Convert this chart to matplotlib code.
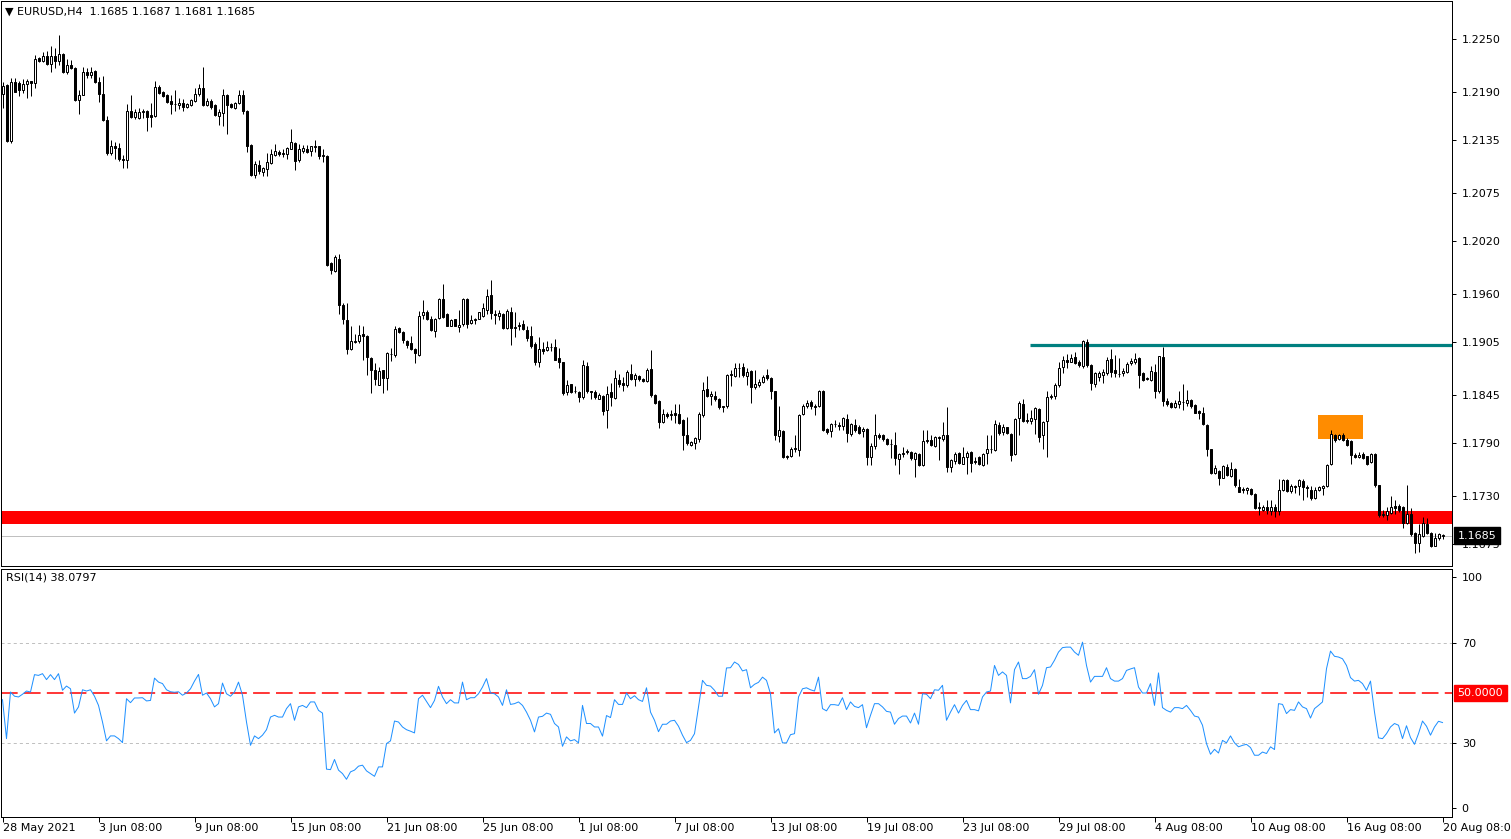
import matplotlib
matplotlib.use("Agg")
import matplotlib.pyplot as plt
from matplotlib.patches import Rectangle
import numpy as np

# ---------------- data (EURUSD H4) ----------------
opens = [
1.2188,1.2198,1.2134,1.2201,1.2200,1.2192,1.2199,1.2202,1.2200,1.2229,
1.2225,1.2231,1.2222,1.2231,1.2225,1.2233,1.2213,1.2221,1.2217,1.2181,
1.2187,1.2213,1.2209,1.2214,1.2201,1.2188,1.2158,1.2120,1.2128,1.2126,
1.2114,1.2112,1.2168,1.2161,1.2160,1.2167,1.2168,1.2164,1.2163,1.2196,
1.2190,1.2187,1.2180,1.2176,1.2175,1.2178,1.2173,1.2175,1.2180,1.2188,
1.2195,1.2175,1.2180,1.2175,1.2163,1.2166,1.2187,1.2176,1.2172,1.2177,
1.2187,1.2168,1.2130,1.2095,1.2107,1.2099,1.2102,1.2109,1.2118,1.2122,
1.2119,1.2119,1.2125,1.2132,1.2112,1.2123,1.2125,1.2123,1.2127,1.2128,
1.2117,1.2117,1.1995,1.1986,1.2000,1.1948,1.1930,1.1897,1.1905,1.1907,
1.1914,1.1912,1.1887,1.1873,1.1856,1.1873,1.1864,1.1892,1.1890,1.1921,
1.1917,1.1907,1.1904,1.1897,1.1891,1.1936,1.1940,1.1932,1.1918,1.1933,
1.1954,1.1937,1.1924,1.1931,1.1922,1.1926,1.1954,1.1927,1.1930,1.1932,
1.1935,1.1942,1.1959,1.1937,1.1935,1.1937,1.1921,1.1940,1.1921,1.1923,
1.1926,1.1919,1.1912,1.1903,1.1883,1.1897,1.1896,1.1900,1.1900,1.1887,
1.1882,1.1848,1.1857,1.1849,1.1848,1.1843,1.1878,1.1849,1.1848,1.1841,
1.1844,1.1828,1.1848,1.1842,1.1862,1.1859,1.1856,1.1869,1.1863,1.1867,
1.1863,1.1861,1.1875,1.1845,1.1838,1.1814,1.1823,1.1822,1.1824,1.1823,
1.1816,1.1799,1.1788,1.1790,1.1795,1.1822,1.1852,1.1844,1.1844,1.1841,
1.1831,1.1832,1.1868,1.1867,1.1876,1.1877,1.1867,1.1872,1.1854,1.1856,
1.1860,1.1868,1.1864,1.1849,1.1798,1.1804,1.1776,1.1775,1.1784,1.1782,
1.1823,1.1833,1.1837,1.1832,1.1832,1.1849,1.1806,1.1804,1.1812,1.1811,
1.1810,1.1818,1.1801,1.1811,1.1808,1.1804,1.1806,1.1774,1.1787,1.1800,
1.1799,1.1795,1.1789,1.1788,1.1772,1.1778,1.1780,1.1780,1.1772,1.1778,
1.1765,1.1793,1.1794,1.1787,1.1796,1.1795,1.1799,1.1763,1.1770,1.1779,
1.1766,1.1774,1.1780,1.1770,1.1774,1.1765,1.1779,1.1784,1.1782,1.1811,
1.1803,1.1808,1.1801,1.1778,1.1819,1.1835,1.1815,1.1815,1.1818,1.1829,
1.1799,1.1815,1.1843,1.1844,1.1856,1.1877,1.1885,1.1883,1.1888,1.1883,
1.1878,1.1905,1.1879,1.1858,1.1866,1.1868,1.1870,1.1886,1.1873,1.1869,
1.1870,1.1871,1.1881,1.1882,1.1887,1.1870,1.1863,1.1862,1.1871,1.1849,
1.1888,1.1838,1.1836,1.1831,1.1835,1.1837,1.1836,1.1839,1.1834,1.1827,
1.1824,1.1811,1.1783,1.1756,1.1759,1.1751,1.1763,1.1753,1.1761,1.1740,
1.1737,1.1737,1.1738,1.1732,1.1716,1.1714,1.1718,1.1713,1.1717,1.1713,
1.1737,1.1748,1.1736,1.1741,1.1741,1.1747,1.1740,1.1737,1.1728,1.1737,
1.1739,1.1741,1.1766,1.1800,1.1795,1.1800,1.1794,1.1793,1.1777,1.1774,
1.1778,1.1775,1.1769,1.1778,1.1742,1.1708,1.1708,1.1711,1.1719,1.1719,
1.1718,1.1699,1.1710,1.1688,1.1676,1.1685,1.1698,1.1688,1.1673,1.1682,
1.1685]
highs = [
1.2201,1.2199,1.2206,1.2206,1.2202,1.2205,1.2205,1.2203,1.2232,1.2230,
1.2235,1.2237,1.2242,1.2240,1.2255,1.2234,1.2227,1.2226,1.2218,1.2192,
1.2219,1.2217,1.2219,1.2215,1.2207,1.2208,1.2163,1.2135,1.2133,1.2132,
1.2118,1.2176,1.2187,1.2171,1.2172,1.2171,1.2169,1.2177,1.2203,1.2198,
1.2191,1.2188,1.2186,1.2192,1.2183,1.2182,1.2177,1.2182,1.2194,1.2199,
1.2218,1.2183,1.2182,1.2176,1.2171,1.2193,1.2188,1.2177,1.2179,1.2192,
1.2192,1.2170,1.2131,1.2111,1.2112,1.2105,1.2120,1.2125,1.2131,1.2124,
1.2125,1.2127,1.2148,1.2133,1.2131,1.2130,1.2130,1.2129,1.2135,1.2129,
1.2125,1.2118,1.1996,1.2004,1.2006,1.1950,1.1950,1.1923,1.1915,1.1925,
1.1924,1.1913,1.1888,1.1881,1.1877,1.1874,1.1894,1.1899,1.1923,1.1922,
1.1918,1.1908,1.1912,1.1898,1.1941,1.1953,1.1942,1.1935,1.1933,1.1955,
1.1971,1.1938,1.1931,1.1932,1.1942,1.1956,1.1955,1.1936,1.1933,1.1940,
1.1950,1.1966,1.1976,1.1942,1.1942,1.1938,1.1943,1.1945,1.1939,1.1928,
1.1930,1.1923,1.1923,1.1905,1.1911,1.1905,1.1906,1.1904,1.1909,1.1898,
1.1883,1.1862,1.1858,1.1855,1.1849,1.1885,1.1883,1.1850,1.1851,1.1847,
1.1845,1.1855,1.1859,1.1874,1.1869,1.1866,1.1873,1.1880,1.1870,1.1868,
1.1864,1.1876,1.1896,1.1846,1.1839,1.1829,1.1826,1.1828,1.1835,1.1835,
1.1818,1.1820,1.1793,1.1797,1.1826,1.1860,1.1867,1.1850,1.1850,1.1842,
1.1833,1.1869,1.1874,1.1881,1.1881,1.1881,1.1876,1.1873,1.1874,1.1863,
1.1868,1.1875,1.1865,1.1850,1.1832,1.1805,1.1777,1.1786,1.1799,1.1823,
1.1835,1.1839,1.1839,1.1835,1.1851,1.1851,1.1807,1.1813,1.1816,1.1814,
1.1820,1.1823,1.1813,1.1818,1.1811,1.1809,1.1807,1.1790,1.1823,1.1802,
1.1801,1.1796,1.1795,1.1803,1.1779,1.1786,1.1783,1.1781,1.1780,1.1779,
1.1805,1.1805,1.1799,1.1798,1.1798,1.1814,1.1831,1.1772,1.1780,1.1780,
1.1786,1.1781,1.1781,1.1774,1.1775,1.1779,1.1800,1.1799,1.1817,1.1814,
1.1812,1.1809,1.1802,1.1819,1.1838,1.1841,1.1824,1.1828,1.1831,1.1830,
1.1815,1.1849,1.1846,1.1859,1.1883,1.1889,1.1892,1.1892,1.1894,1.1885,
1.1908,1.1909,1.1880,1.1871,1.1872,1.1875,1.1888,1.1897,1.1890,1.1887,
1.1876,1.1882,1.1887,1.1893,1.1888,1.1871,1.1866,1.1878,1.1880,1.1889,
1.1900,1.1842,1.1837,1.1839,1.1849,1.1857,1.1851,1.1840,1.1835,1.1828,
1.1831,1.1812,1.1784,1.1765,1.1760,1.1765,1.1767,1.1769,1.1762,1.1749,
1.1740,1.1740,1.1739,1.1733,1.1723,1.1720,1.1725,1.1725,1.1721,1.1749,
1.1749,1.1749,1.1744,1.1743,1.1749,1.1749,1.1742,1.1741,1.1740,1.1741,
1.1742,1.1766,1.1805,1.1801,1.1801,1.1802,1.1796,1.1794,1.1779,1.1780,
1.1780,1.1776,1.1779,1.1779,1.1743,1.1714,1.1718,1.1730,1.1725,1.1721,
1.1719,1.1742,1.1716,1.1689,1.1698,1.1706,1.1705,1.1689,1.1688,1.1688,
1.1687]
lows = [
1.2172,1.2133,1.2132,1.2190,1.2185,1.2189,1.2183,1.2185,1.2194,1.2224,
1.2224,1.2221,1.2213,1.2217,1.2221,1.2212,1.2211,1.2216,1.2180,1.2165,
1.2186,1.2206,1.2206,1.2200,1.2179,1.2157,1.2118,1.2118,1.2114,1.2111,
1.2104,1.2104,1.2160,1.2159,1.2159,1.2160,1.2145,1.2150,1.2161,1.2188,
1.2184,1.2177,1.2165,1.2168,1.2171,1.2168,1.2172,1.2174,1.2179,1.2185,
1.2174,1.2174,1.2171,1.2163,1.2152,1.2151,1.2142,1.2172,1.2171,1.2176,
1.2165,1.2122,1.2094,1.2092,1.2097,1.2094,1.2094,1.2108,1.2117,1.2117,
1.2116,1.2114,1.2125,1.2101,1.2110,1.2120,1.2121,1.2117,1.2122,1.2114,
1.2110,1.1992,1.1983,1.1985,1.1937,1.1926,1.1892,1.1896,1.1904,1.1904,
1.1885,1.1868,1.1847,1.1856,1.1856,1.1847,1.1851,1.1884,1.1888,1.1916,
1.1904,1.1899,1.1896,1.1881,1.1889,1.1931,1.1930,1.1918,1.1911,1.1932,
1.1933,1.1923,1.1923,1.1923,1.1917,1.1923,1.1921,1.1926,1.1926,1.1931,
1.1934,1.1937,1.1932,1.1926,1.1930,1.1920,1.1920,1.1902,1.1911,1.1919,
1.1919,1.1907,1.1899,1.1879,1.1877,1.1892,1.1895,1.1895,1.1885,1.1876,
1.1845,1.1845,1.1847,1.1847,1.1837,1.1840,1.1847,1.1840,1.1841,1.1840,
1.1822,1.1807,1.1832,1.1840,1.1854,1.1850,1.1854,1.1862,1.1855,1.1861,
1.1860,1.1860,1.1843,1.1835,1.1807,1.1813,1.1819,1.1816,1.1813,1.1812,
1.1782,1.1788,1.1787,1.1783,1.1792,1.1820,1.1843,1.1834,1.1838,1.1829,
1.1826,1.1830,1.1855,1.1866,1.1866,1.1866,1.1856,1.1836,1.1852,1.1854,
1.1859,1.1862,1.1841,1.1794,1.1792,1.1773,1.1772,1.1774,1.1780,1.1775,
1.1822,1.1830,1.1829,1.1822,1.1831,1.1804,1.1801,1.1797,1.1808,1.1805,
1.1805,1.1792,1.1798,1.1803,1.1801,1.1797,1.1765,1.1765,1.1783,1.1795,
1.1793,1.1788,1.1773,1.1765,1.1755,1.1774,1.1778,1.1771,1.1752,1.1764,
1.1764,1.1790,1.1787,1.1786,1.1771,1.1793,1.1757,1.1757,1.1767,1.1767,
1.1766,1.1755,1.1757,1.1767,1.1765,1.1764,1.1767,1.1779,1.1781,1.1799,
1.1799,1.1801,1.1770,1.1777,1.1800,1.1814,1.1813,1.1812,1.1801,1.1792,
1.1784,1.1774,1.1840,1.1841,1.1854,1.1870,1.1876,1.1882,1.1880,1.1877,
1.1876,1.1877,1.1851,1.1854,1.1861,1.1859,1.1868,1.1866,1.1866,1.1866,
1.1867,1.1870,1.1879,1.1880,1.1853,1.1861,1.1862,1.1861,1.1842,1.1847,
1.1832,1.1833,1.1830,1.1830,1.1830,1.1828,1.1833,1.1830,1.1824,1.1818,
1.1811,1.1776,1.1755,1.1755,1.1742,1.1750,1.1753,1.1752,1.1740,1.1734,
1.1733,1.1732,1.1731,1.1715,1.1708,1.1713,1.1710,1.1708,1.1706,1.1708,
1.1736,1.1735,1.1733,1.1733,1.1731,1.1726,1.1729,1.1725,1.1727,1.1736,
1.1731,1.1740,1.1765,1.1792,1.1794,1.1793,1.1787,1.1767,1.1773,1.1773,
1.1772,1.1765,1.1768,1.1740,1.1706,1.1706,1.1703,1.1710,1.1710,1.1712,
1.1693,1.1698,1.1685,1.1665,1.1666,1.1683,1.1687,1.1672,1.1673,1.1680,
1.1681]
closes = [
1.2197,1.2134,1.2201,1.2190,1.2192,1.2199,1.2202,1.2200,1.2228,1.2225,
1.2231,1.2222,1.2231,1.2225,1.2233,1.2213,1.2221,1.2217,1.2181,1.2187,
1.2213,1.2209,1.2213,1.2201,1.2188,1.2158,1.2120,1.2128,1.2126,1.2114,
1.2112,1.2168,1.2161,1.2167,1.2167,1.2168,1.2162,1.2162,1.2196,1.2189,
1.2185,1.2179,1.2176,1.2176,1.2178,1.2173,1.2176,1.2181,1.2188,1.2195,
1.2175,1.2180,1.2173,1.2164,1.2167,1.2187,1.2175,1.2173,1.2178,1.2187,
1.2168,1.2128,1.2095,1.2108,1.2100,1.2104,1.2110,1.2119,1.2123,1.2119,
1.2120,1.2126,1.2133,1.2111,1.2125,1.2126,1.2122,1.2128,1.2129,1.2117,
1.2118,1.1993,1.1987,1.2002,1.1947,1.1931,1.1897,1.1906,1.1907,1.1913,
1.1912,1.1888,1.1873,1.1863,1.1872,1.1864,1.1893,1.1892,1.1920,1.1917,
1.1908,1.1902,1.1897,1.1893,1.1935,1.1940,1.1932,1.1919,1.1932,1.1954,
1.1934,1.1924,1.1930,1.1924,1.1925,1.1954,1.1926,1.1930,1.1931,1.1939,
1.1944,1.1958,1.1938,1.1936,1.1938,1.1921,1.1941,1.1921,1.1922,1.1925,
1.1920,1.1910,1.1901,1.1882,1.1897,1.1895,1.1900,1.1900,1.1885,1.1882,
1.1847,1.1856,1.1848,1.1849,1.1843,1.1879,1.1849,1.1848,1.1843,1.1845,
1.1827,1.1846,1.1843,1.1864,1.1857,1.1856,1.1871,1.1863,1.1868,1.1863,
1.1861,1.1874,1.1845,1.1836,1.1814,1.1823,1.1821,1.1823,1.1822,1.1813,
1.1799,1.1790,1.1791,1.1796,1.1823,1.1851,1.1844,1.1846,1.1840,1.1831,
1.1832,1.1868,1.1869,1.1876,1.1876,1.1868,1.1871,1.1854,1.1857,1.1860,
1.1866,1.1864,1.1850,1.1799,1.1805,1.1774,1.1774,1.1784,1.1784,1.1822,
1.1832,1.1836,1.1833,1.1831,1.1850,1.1805,1.1803,1.1812,1.1812,1.1810,
1.1819,1.1802,1.1812,1.1805,1.1802,1.1806,1.1774,1.1787,1.1799,1.1797,
1.1795,1.1789,1.1789,1.1773,1.1778,1.1779,1.1781,1.1773,1.1779,1.1765,
1.1793,1.1794,1.1788,1.1797,1.1797,1.1800,1.1763,1.1771,1.1778,1.1768,
1.1774,1.1779,1.1768,1.1769,1.1766,1.1778,1.1784,1.1783,1.1812,1.1802,
1.1808,1.1802,1.1777,1.1818,1.1836,1.1815,1.1816,1.1819,1.1830,1.1797,
1.1814,1.1843,1.1844,1.1856,1.1876,1.1885,1.1883,1.1887,1.1881,1.1879,
1.1906,1.1879,1.1859,1.1870,1.1870,1.1871,1.1885,1.1871,1.1870,1.1869,
1.1872,1.1880,1.1884,1.1886,1.1868,1.1862,1.1864,1.1872,1.1850,1.1889,
1.1838,1.1835,1.1831,1.1836,1.1838,1.1837,1.1839,1.1833,1.1825,1.1825,
1.1812,1.1784,1.1756,1.1762,1.1750,1.1764,1.1754,1.1761,1.1742,1.1735,
1.1738,1.1739,1.1732,1.1716,1.1718,1.1718,1.1714,1.1718,1.1713,1.1737,
1.1748,1.1736,1.1741,1.1740,1.1748,1.1740,1.1739,1.1728,1.1737,1.1740,
1.1741,1.1765,1.1801,1.1794,1.1799,1.1794,1.1788,1.1777,1.1774,1.1777,
1.1773,1.1767,1.1778,1.1742,1.1708,1.1709,1.1713,1.1718,1.1716,1.1714,
1.1699,1.1710,1.1687,1.1677,1.1687,1.1699,1.1688,1.1673,1.1682,1.1687,
1.1685]
rsi_values = [
47.3,31.6,50.4,48.7,48.4,49.5,50.8,50.4,57.4,57.1,
57.8,55.4,57.4,55.4,57.8,51.1,52.8,51.7,41.9,44.4,
51.3,50.8,51.3,48.7,45.0,38.3,30.7,32.7,32.7,31.6,
30.0,47.7,46.1,48.0,48.0,48.1,46.8,47.0,56.0,54.4,
53.8,51.3,50.5,50.3,50.5,49.1,50.0,51.7,54.8,57.5,
49.1,50.0,47.7,44.4,45.7,54.0,49.7,48.7,50.4,54.4,
49.1,38.3,28.9,32.7,31.6,33.0,35.2,40.3,41.0,40.3,
40.3,43.7,45.7,39.0,44.4,45.0,44.1,46.4,46.4,43.0,
41.9,19.3,19.1,23.2,18.9,17.5,15.2,18.2,18.9,20.5,
20.9,18.6,17.5,16.4,20.2,20.2,29.6,30.7,38.7,38.3,
36.3,35.2,34.6,33.9,47.7,49.1,46.6,44.1,47.0,52.7,
48.4,45.7,47.3,46.0,46.0,54.4,47.3,48.1,48.1,49.7,
52.4,55.8,50.0,49.7,48.4,45.0,51.3,45.4,45.7,46.4,
45.0,42.3,39.0,34.3,40.3,40.6,41.9,41.4,37.7,36.3,
28.5,32.3,30.7,31.2,29.9,45.0,37.7,37.7,36.3,36.3,
32.6,40.9,40.1,47.3,45.4,45.4,50.0,47.7,48.9,47.3,
46.6,52.1,42.3,39.0,34.4,37.4,37.4,38.7,39.0,36.6,
33.0,30.0,30.9,33.6,44.4,55.1,53.1,52.8,51.1,48.7,
48.7,60.1,60.2,62.5,61.5,58.9,59.4,52.1,53.5,54.3,
56.4,55.1,49.7,33.9,35.6,29.9,29.9,33.2,33.6,48.4,
51.7,52.1,51.3,50.8,56.4,43.7,42.8,45.3,45.3,45.0,
48.1,43.3,46.4,44.6,44.1,45.3,36.0,41.0,45.7,45.7,
44.4,42.6,42.3,37.4,39.7,40.7,40.7,37.9,41.9,37.4,
49.7,49.5,47.7,51.3,51.1,53.1,39.0,42.3,45.3,41.9,
45.0,47.0,43.3,43.3,42.8,48.4,50.4,50.8,61.1,57.1,
58.5,57.1,46.0,59.4,62.5,55.8,55.8,56.7,59.4,49.5,
53.1,60.2,60.5,63.2,66.5,68.3,68.5,68.5,66.5,65.2,
70.5,61.1,54.4,56.7,56.7,56.7,60.2,55.8,54.8,54.8,
55.8,59.1,59.7,60.2,52.4,50.0,50.0,53.8,45.0,58.1,
44.1,43.0,42.3,44.1,44.1,43.7,45.0,43.0,40.7,40.3,
37.0,29.6,25.3,27.3,25.8,30.9,29.9,32.7,29.9,28.3,
28.9,29.3,28.0,24.9,24.9,26.2,25.6,28.3,27.2,45.7,
45.4,41.7,43.3,43.0,46.4,44.4,43.7,39.9,43.7,45.0,
46.4,59.8,66.9,64.8,64.5,63.8,61.1,56.2,54.8,55.1,
53.8,51.1,54.8,42.3,31.9,31.6,33.6,36.3,37.7,37.0,
31.6,36.8,32.0,29.3,33.6,38.7,36.6,33.0,36.3,38.6,
38.08]

symbol = "EURUSD,H4"
rsi_last_label = "38.0797"
price_ticks = [1.2250, 1.2190, 1.2135, 1.2075, 1.2020, 1.1960, 1.1905,
               1.1845, 1.1790, 1.1730, 1.1675]
time_labels = ["28 May 2021", "3 Jun 08:00", "9 Jun 08:00", "15 Jun 08:00",
               "21 Jun 08:00", "25 Jun 08:00", "1 Jul 08:00", "7 Jul 08:00",
               "13 Jul 08:00", "19 Jul 08:00", "23 Jul 08:00", "29 Jul 08:00",
               "4 Aug 08:00", "10 Aug 08:00", "16 Aug 08:00", "20 Aug 08:00"]
time_label_bars = [0, 24, 48, 72, 96, 120, 144, 168, 192, 216, 240, 264,
                   288, 312, 336, 360]
rsi_tick_labels = ["100", "70", "30", "0"]
rsi_tick_pos = [96.6, 70, 30, 3.5]   # 100 and 0 are drawn just inside the edges
rsi_levels = [70, 30]
rsi_mid = 50.0

resistance_level = 1.1902
resistance_start_bar = 256.75
support_band = (1.16985, 1.17129)
zone_bars = (328.9, 340.0)
zone_prices = (1.1795, 1.1822)

# ---------------- figure ----------------
plt.rcParams["font.family"] = ["DejaVu Sans"]
plt.rcParams["font.size"] = 8
plt.rcParams["lines.scale_dashes"] = False

W, H = 1511, 839
fig = plt.figure(figsize=(W / 100, H / 100), dpi=100)
fig.patch.set_facecolor("white")

ax = fig.add_axes([1 / W, 273 / H, 1451 / W, 565 / H])
ax2 = fig.add_axes([1 / W, 22 / H, 1451 / W, 248 / H])

n = len(closes)
x = np.arange(n)
o = np.array(opens); h = np.array(highs); l = np.array(lows); c = np.array(closes)

xlim = (-0.375, 362.375)
px_lw = 0.72  # one pixel in points

# price panel
ax.axhline(closes[-1], color="#c0c0c0", lw=px_lw, zorder=1)
ax.axhspan(support_band[0], support_band[1], color="#ff0000", lw=0, zorder=2)
ax.hlines(resistance_level, resistance_start_bar, xlim[1], color="#008080",
          lw=2.3, zorder=2)
ax.add_patch(Rectangle((zone_bars[0], zone_prices[0]), zone_bars[1] - zone_bars[0],
                       zone_prices[1] - zone_prices[0], facecolor="#ff8c00",
                       edgecolor="none", zorder=2))

ax.vlines(x, l, h, color="black", lw=px_lw, zorder=3)
up = c >= o
body_bottom = np.minimum(o, c)
body_h = np.maximum(np.abs(c - o), 0.00002)
ax.bar(x, body_h, bottom=body_bottom, width=0.5,
       color=np.where(up, "white", "black"), edgecolor="black",
       linewidth=px_lw, zorder=4)

ax.set_xlim(*xlim)
ax.set_ylim(1.165030, 1.229358)
ax.yaxis.tick_right()
ax.set_yticks(price_ticks)
ax.set_yticklabels([f"{p:.4f}" for p in price_ticks])
ax.tick_params(axis="y", length=3, width=px_lw, pad=4, labelsize=8, colors="black")
ax.set_xticks([])
for s in ax.spines.values():
    s.set_linewidth(px_lw)
    s.set_color("black")

ax.annotate(f"{closes[-1]:.4f}", xy=(1, closes[-1]), xycoords=("axes fraction", "data"),
            xytext=(4, 0), textcoords="offset points", va="center", ha="left",
            color="white", fontsize=8, zorder=20, annotation_clip=False,
            bbox=dict(boxstyle="square,pad=0.3", fc="black", ec="black"))

fig.text(5 / W, 1 - 12 / H,
         f"\u25BC {symbol}  {opens[-1]:.4f} {highs[-1]:.4f} {lows[-1]:.4f} {closes[-1]:.4f}",
         fontsize=8, va="center", ha="left")

# RSI panel
for lv in rsi_levels:
    ax2.axhline(lv, color="#c0c0c0", lw=px_lw, ls=(0, (2.2, 2.2)), zorder=1)
ax2.axhline(rsi_mid, color="#ff0000", lw=1.1, ls=(0, (12.0, 4.5)), zorder=2)
ax2.plot(x, rsi_values, color="#1e90ff", lw=px_lw, zorder=3)
ax2.set_xlim(*xlim)
ax2.set_ylim(0, 100)
ax2.yaxis.tick_right()
ax2.set_yticks(rsi_tick_pos)
ax2.set_yticklabels(rsi_tick_labels)
ax2.tick_params(axis="y", length=3, width=px_lw, pad=4, labelsize=8)
ax2.set_xticks(time_label_bars)
ax2.tick_params(axis="x", length=3.5, width=px_lw, direction="out", labelbottom=False)
for s in ax2.spines.values():
    s.set_linewidth(px_lw)
    s.set_color("black")

ax2.annotate(f"{rsi_mid:.4f}", xy=(1, rsi_mid), xycoords=("axes fraction", "data"),
             xytext=(4, 0), textcoords="offset points", va="center", ha="left",
             color="white", fontsize=8, zorder=20, annotation_clip=False,
             bbox=dict(boxstyle="square,pad=0.3", fc="#ff0000", ec="#ff0000"))
ax2.text(5 / 1451, 1 - 9 / 248, f"RSI(14) {rsi_last_label}", transform=ax2.transAxes,
         fontsize=8, va="center", ha="left")

for b, lab in zip(time_label_bars, time_labels):
    ax2.annotate(lab, xy=(b, 0), xycoords=("data", "axes fraction"),
                 xytext=(0.5, -4), textcoords="offset points", va="top", ha="left",
                 fontsize=8, annotation_clip=False)

fig.savefig("out.png", dpi=100, facecolor="white")
